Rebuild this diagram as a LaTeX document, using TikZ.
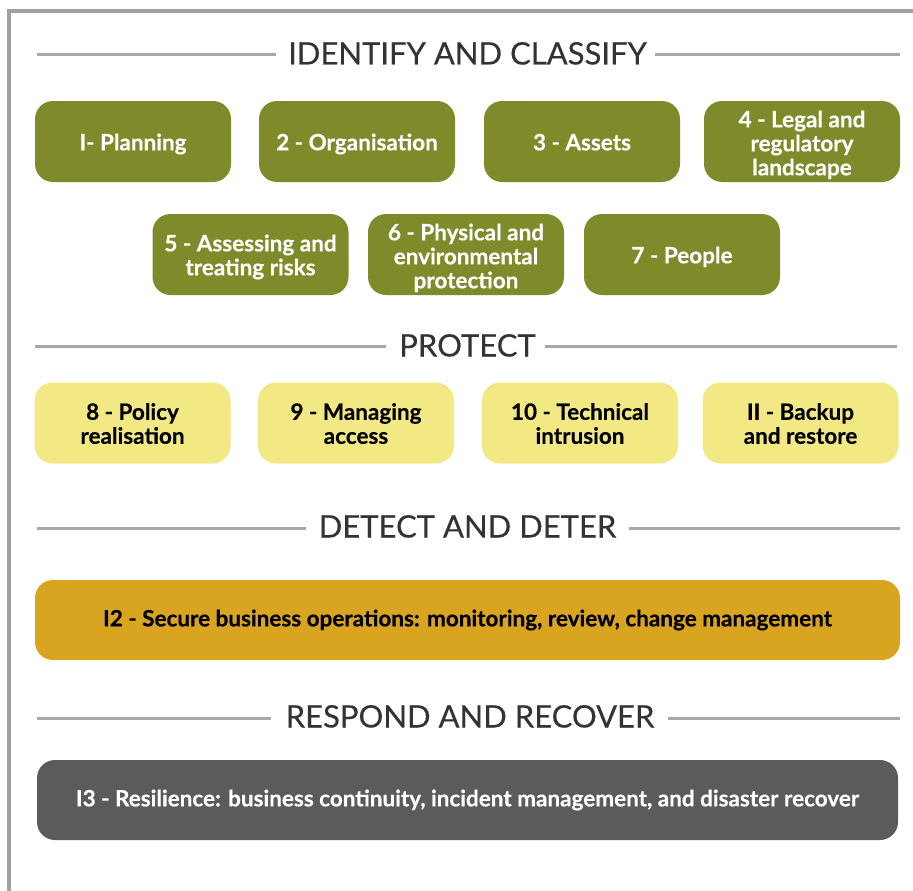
\documentclass[tikz,border=0pt]{standalone}
\usepackage{fontspec}
\setmainfont{Lato}
\definecolor{cOlive}{HTML}{7F8B2B}
\definecolor{cYellow}{HTML}{F3E984}
\definecolor{cGold}{HTML}{D9A521}
\definecolor{cDark}{HTML}{5B5B5A}
\definecolor{cFrame}{HTML}{A0A0A0}
\definecolor{cRule}{HTML}{A8A8A8}
\definecolor{cHead}{HTML}{333333}
\newcommand{\mlines}[2]{\raisebox{-#1}[\height][\depth]{\begin{tabular}{@{}c@{}}#2\end{tabular}}}
\begin{document}
\begin{tikzpicture}[x=1pt,y=-1pt,
  box/.style={rounded corners=18pt, minimum width=196pt, minimum height=81pt,
    align=center, inner sep=0pt, font=\bfseries\fontsize{22.5}{24}\selectfont\addfontfeature{FakeBold=0.4}},
  greenbox/.style={box, fill=cOlive, text=white},
  yellowbox/.style={box, fill=cYellow, text=black},
  goldbox/.style={box, fill=cGold, text=black, minimum width=865pt, minimum height=80pt},
  darkbox/.style={box, fill=cDark, text=white, minimum width=861pt, minimum height=80pt},
  head/.style={anchor=base, inner sep=0pt, text=cHead, font=\fontsize{31}{33}\selectfont\addfontfeature{FakeBold=0.3}},
  rule/.style={draw=cRule, line width=3pt},
  frame/.style={draw=cFrame, line width=4pt}
]
\useasboundingbox (0,0) rectangle (913,891);
% frame
\coordinate (fa) at (9,893);
\coordinate (fb) at (9,11);
\coordinate (fc) at (915,11);
\draw[frame] (fa) -- (fb) -- (fc);

% headings
\node[head] (h1) at (467.5,64.5) {IDENTIFY AND CLASSIFY};
\coordinate (h1l) at (37,54.5);
\coordinate (h1r) at (900,54.5);
\draw[rule] (h1l) -- ([xshift=-12pt]h1l -| h1.west);
\draw[rule] ([xshift=8pt]h1r -| h1.east) -- (h1r);

\node[head] (h2) at (467.5,356.5) {PROTECT};
\coordinate (h2l) at (35,346);
\coordinate (h2r) at (897,346);
\draw[rule] (h2l) -- ([xshift=-13pt]h2l -| h2.west);
\draw[rule] ([xshift=9pt]h2r -| h2.east) -- (h2r);

\node[head] (h3) at (467.5,537.5) {DETECT AND DETER};
\coordinate (h3l) at (37,528);
\coordinate (h3r) at (900,528);
\draw[rule] (h3l) -- ([xshift=-13pt]h3l -| h3.west);
\draw[rule] ([xshift=13pt]h3r -| h3.east) -- (h3r);

\node[head] (h4) at (470,727.5) {RESPOND AND RECOVER};
\coordinate (h4l) at (37,718);
\coordinate (h4r) at (900,718);
\draw[rule] (h4l) -- ([xshift=-15pt]h4l -| h4.west);
\draw[rule] ([xshift=14pt]h4r -| h4.east) -- (h4r);

% row 1
\node[greenbox] (b1) at (133,141.5) {\mlines{4pt}{I- Planning}};
\node[greenbox] (b2) at (357,141.5) {\mlines{4pt}{2 - Organisation}};
\node[greenbox] (b3) at (582,141.5) {\mlines{4pt}{3 - Assets}};
\node[greenbox] (b4) at (802,141.5) {\mlines{5pt}{4 - Legal and\\regulatory\\landscape}};
% row 2
\node[greenbox] (b5) at (250.5,254.5) {\mlines{4pt}{5 - Assessing and\\treating risks}};
\node[greenbox] (b6) at (466,254.5) {\mlines{5pt}{6 - Physical and\\environmental\\protection}};
\node[greenbox] (b7) at (682,254.5) {\mlines{4pt}{7 - People}};
% row 3
\node[yellowbox] (b8) at (132.5,423) {\mlines{4pt}{8 - Policy\\realisation}};
\node[yellowbox] (b9) at (356,423) {\mlines{4pt}{9 - Managing\\access}};
\node[yellowbox] (b10) at (580,423) {\mlines{4pt}{10 - Technical\\intrusion}};
\node[yellowbox] (b11) at (800.5,423) {\mlines{4pt}{II - Backup\\and restore}};
% wide boxes
\node[goldbox] (b12) at (467.5,620) {I2 - Secure business operations: monitoring, review, change management};
\node[darkbox] (b13) at (467.5,800) {I3 - Resilience: business continuity, incident management, and disaster recover};
\end{tikzpicture}
\end{document}
